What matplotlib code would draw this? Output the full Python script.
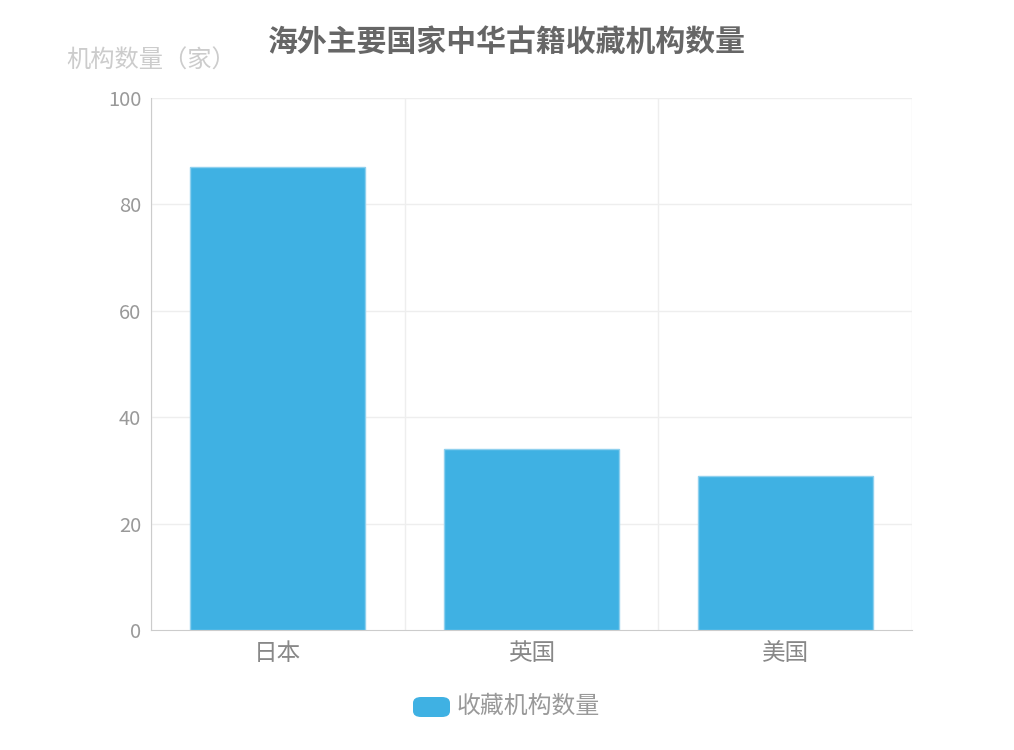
import numpy as np
import matplotlib.pyplot as plt
from matplotlib.patches import FancyBboxPatch

plt.rcParams['font.family'] = ['Noto Sans CJK SC', 'DejaVu Sans']

# Data
countries = ['日本', '英国', '美国']
counts = [87, 34, 29]
series_name = '收藏机构数量'

fig = plt.figure(figsize=(10.14, 7.5), dpi=100)
ax = fig.add_axes([151 / 1014, 120 / 750, 761 / 1014, 532 / 750])

x = np.arange(len(countries))
ax.bar(x, counts, width=0.69, color='#3fb1e3', edgecolor='#8fd0ee', linewidth=1, zorder=3)

ax.set_xlim(-0.5, len(countries) - 0.5)
ax.set_ylim(0, 100)
ax.set_yticks([0, 20, 40, 60, 80, 100])
ax.set_xticks(x)
ax.set_xticklabels(countries, fontsize=17, color='#888888')
ax.tick_params(axis='y', labelsize=14.5, labelcolor='#999999', length=0, pad=7)
ax.tick_params(axis='x', length=0, pad=9)

# grid: horizontal at ticks, vertical at category boundaries
for yv in [20, 40, 60, 80, 100]:
    ax.axhline(yv, color='#eeeeee', lw=1, zorder=1)
for xv in np.arange(len(countries) + 1) - 0.5:
    ax.axvline(xv, color='#eeeeee', lw=1, zorder=1)

for s in ['top', 'right']:
    ax.spines[s].set_visible(False)
ax.spines['left'].set_color('#cccccc')
ax.spines['bottom'].set_color('#cccccc')

fig.text(0.5, 1 - 42 / 750, '海外主要国家中华古籍收藏机构数量', ha='center', va='center',
         fontsize=21.5, fontweight='bold', color='#666666')
fig.text(66 / 1014, 1 - 61 / 750, '机构数量（家）', ha='left', va='center',
         fontsize=17.5, color='#cccccc')

# legend
fig.patches.append(FancyBboxPatch((413 / 1014, 1 - 717 / 750), 37 / 1014, 20 / 750,
                                  boxstyle='round,pad=0,rounding_size=0.008',
                                  transform=fig.transFigure, facecolor='#3fb1e3',
                                  edgecolor='none'))
fig.text(457 / 1014, 1 - 706 / 750, series_name, ha='left', va='center',
         fontsize=17.2, color='#999999')

fig.savefig('out.png', dpi=100)
